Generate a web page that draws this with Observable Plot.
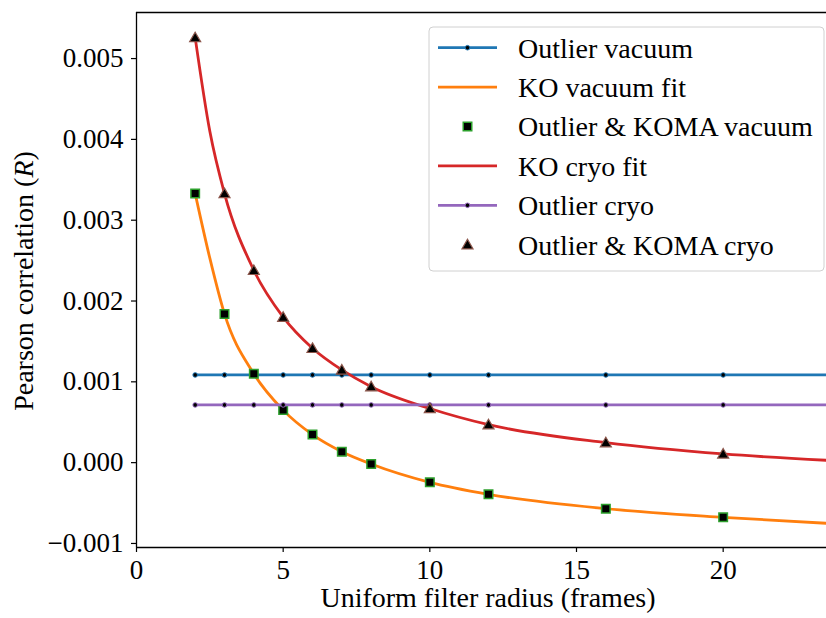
<!DOCTYPE html>
<html><head><meta charset="utf-8">
<script src="https://cdn.jsdelivr.net/npm/d3@7"></script>
<script src="https://cdn.jsdelivr.net/npm/@observablehq/plot@0.6"></script>
<style>
html,body{margin:0;padding:0;background:#fff;overflow:hidden}
#chart{width:826px;height:618px;overflow:hidden;position:relative}
#chart svg{max-width:none !important;width:840px;height:618px;display:block}
</style></head><body><div id="chart"></div>
<script>
// ---- data ----
const radii = [2, 3, 4, 5, 6, 7, 8, 10, 12, 16, 20];
const outlierRadii = [2, 3, 4, 5, 6, 7, 8, 10, 12, 16, 20, 24];
const outlierVacuum = 0.001085;
const outlierCryo = 0.000714;
const komaVacuum = [0.00333, 0.00184, 0.00110, 0.00065, 0.000347, 0.000136, -0.000016, -0.000243, -0.000392, -0.00057, -0.000677];
const komaCryo = [0.00526, 0.00333, 0.00238, 0.00180, 0.001415, 0.001147, 0.00094, 0.00067, 0.00047, 0.000248, 0.000108];
const fitRadii = [2, 2.5, 3, 4, 5, 6, 7, 8, 10, 12, 16, 20, 24];
const koVacuumFit = [0.00333, 0.00253, 0.00184, 0.00110, 0.00065, 0.000347, 0.000136, -0.000016, -0.000243, -0.000392, -0.00057, -0.000677, -0.00076];
const koCryoFit = [0.00526, 0.00410, 0.00333, 0.00238, 0.00180, 0.001415, 0.001147, 0.00094, 0.00067, 0.00047, 0.000248, 0.000108, 0.00002];
const xTicks = [0, 5, 10, 15, 20];
const yTicks = [-0.001, 0, 0.001, 0.002, 0.003, 0.004, 0.005];
const xDomain = [0, 24];
const yDomain = [-0.00105, 0.00557];
const seriesNames = ["Outlier vacuum", "KO vacuum fit", "Outlier & KOMA vacuum", "KO cryo fit", "Outlier cryo", "Outlier & KOMA cryo"];
const colors = {blue: "#1f77b4", orange: "#ff7f0e", green: "#2ca02c", red: "#d62728", purple: "#9467bd", brown: "#8c564b"};
const xLabel = "Uniform filter radius (frames)";

// ---- tables ----
const outVac = outlierRadii.map(x => ({x, y: outlierVacuum}));
const outCryo = outlierRadii.map(x => ({x, y: outlierCryo}));
const vacPts = radii.map((x, i) => ({x, y: komaVacuum[i]}));
const cryoPts = radii.map((x, i) => ({x, y: komaCryo[i]}));
const vacFit = fitRadii.map((x, i) => ({x, y: koVacuumFit[i]}));
const cryoFit = fitRadii.map((x, i) => ({x, y: koCryoFit[i]}));

const FONT = "Liberation Serif, Times New Roman, serif";
const FS = 27;
const FL = 28;
const LW = 2.8;
const SQ = 4.8, TR = 4.1;

const chart = Plot.plot({
  width: 840, height: 618,
  marginLeft: 136, marginRight: 0, marginTop: 12, marginBottom: 71,
  style: {fontFamily: FONT, fontSize: FS + "px", color: "#000", background: "#fff", overflow: "visible"},
  x: {domain: xDomain},
  y: {domain: yDomain},
  marks: [
    Plot.axisX({ticks: xTicks, tickFormat: d => String(d), tickSize: 5, tickPadding: 7, label: null, stroke: "#000", strokeWidth: 1.2}),
    Plot.axisY({ticks: yTicks, tickFormat: d3.format(".3f"), tickSize: 5, tickPadding: 8, label: null, stroke: "#000", strokeWidth: 1.2}),
    Plot.line(outVac, {x: "x", y: "y", stroke: colors.blue, strokeWidth: LW, clip: true}),
    Plot.dot(outVac, {x: "x", y: "y", r: 2.3, fill: "#000", stroke: colors.blue, strokeWidth: 1, clip: true}),
    Plot.line(vacFit, {x: "x", y: "y", stroke: colors.orange, strokeWidth: LW, curve: "monotone-x", clip: true}),
    Plot.dot(vacPts, {x: "x", y: "y", symbol: "square", r: SQ, fill: "#000", stroke: colors.green, strokeWidth: 1.5}),
    Plot.line(cryoFit, {x: "x", y: "y", stroke: colors.red, strokeWidth: LW, curve: "monotone-x", clip: true}),
    Plot.line(outCryo, {x: "x", y: "y", stroke: colors.purple, strokeWidth: LW, clip: true}),
    Plot.dot(outCryo, {x: "x", y: "y", r: 2.3, fill: "#000", stroke: colors.purple, strokeWidth: 1, clip: true}),
    Plot.dot(cryoPts, {x: "x", y: "y", symbol: "triangle", r: TR, fill: "#000", stroke: colors.brown, strokeWidth: 1.2, dy: 1}),
    Plot.ruleX([xDomain[0]], {stroke: "#000", strokeWidth: 1.3}),
    Plot.ruleY([yDomain[0], yDomain[1]], {stroke: "#000", strokeWidth: 1.3})
  ]
});
document.getElementById("chart").appendChild(chart);

// ---- axis labels and legend ----
const svg = d3.select(chart);
svg.append("text")
  .attr("x", 488).attr("y", 607)
  .attr("text-anchor", "middle")
  .attr("font-family", FONT).attr("font-size", FL).attr("fill", "#000")
  .text(xLabel);
const yl = svg.append("text")
  .attr("transform", "translate(33,281) rotate(-90)")
  .attr("text-anchor", "middle")
  .attr("font-family", FONT).attr("font-size", FL).attr("fill", "#000");
yl.append("tspan").text("Pearson correlation (");
yl.append("tspan").attr("font-style", "italic").text("R");
yl.append("tspan").text(")");

const lg = svg.append("g");
lg.append("rect").attr("x", 429).attr("y", 27).attr("width", 395).attr("height", 244)
  .attr("rx", 4).attr("fill", "#fff").attr("fill-opacity", 0.85).attr("stroke", "#d0d0d0").attr("stroke-width", 1);
const entries = [
  {name: seriesNames[0], line: colors.blue, dot: colors.blue},
  {name: seriesNames[1], line: colors.orange},
  {name: seriesNames[2], square: colors.green},
  {name: seriesNames[3], line: colors.red},
  {name: seriesNames[4], line: colors.purple, dot: colors.purple},
  {name: seriesNames[5], tri: colors.brown}
];
const sqSide = SQ * Math.sqrt(Math.PI);
entries.forEach((e, i) => {
  const cy = 47.7 + i * 39.4;
  if (e.line) lg.append("line").attr("x1", 438).attr("x2", 497).attr("y1", cy).attr("y2", cy)
    .attr("stroke", e.line).attr("stroke-width", LW);
  if (e.dot) lg.append("circle").attr("cx", 467.5).attr("cy", cy).attr("r", 2.3)
    .attr("fill", "#000").attr("stroke", e.dot).attr("stroke-width", 1);
  if (e.square) lg.append("rect").attr("x", 467.5 - sqSide / 2).attr("y", cy - sqSide / 2).attr("width", sqSide).attr("height", sqSide)
    .attr("fill", "#000").attr("stroke", e.square).attr("stroke-width", 1.5);
  if (e.tri) lg.append("path").attr("d", d3.symbol(d3.symbolTriangle, Math.PI * TR * TR)())
    .attr("transform", `translate(467.5,${cy + 1})`)
    .attr("fill", "#000").attr("stroke", e.tri).attr("stroke-width", 1.2);
  lg.append("text").attr("x", 518).attr("y", cy).attr("dy", "0.35em").attr("text-anchor", "start")
    .attr("font-family", FONT).attr("font-size", FL).attr("fill", "#000").text(e.name);
});
</script>
</body></html>
